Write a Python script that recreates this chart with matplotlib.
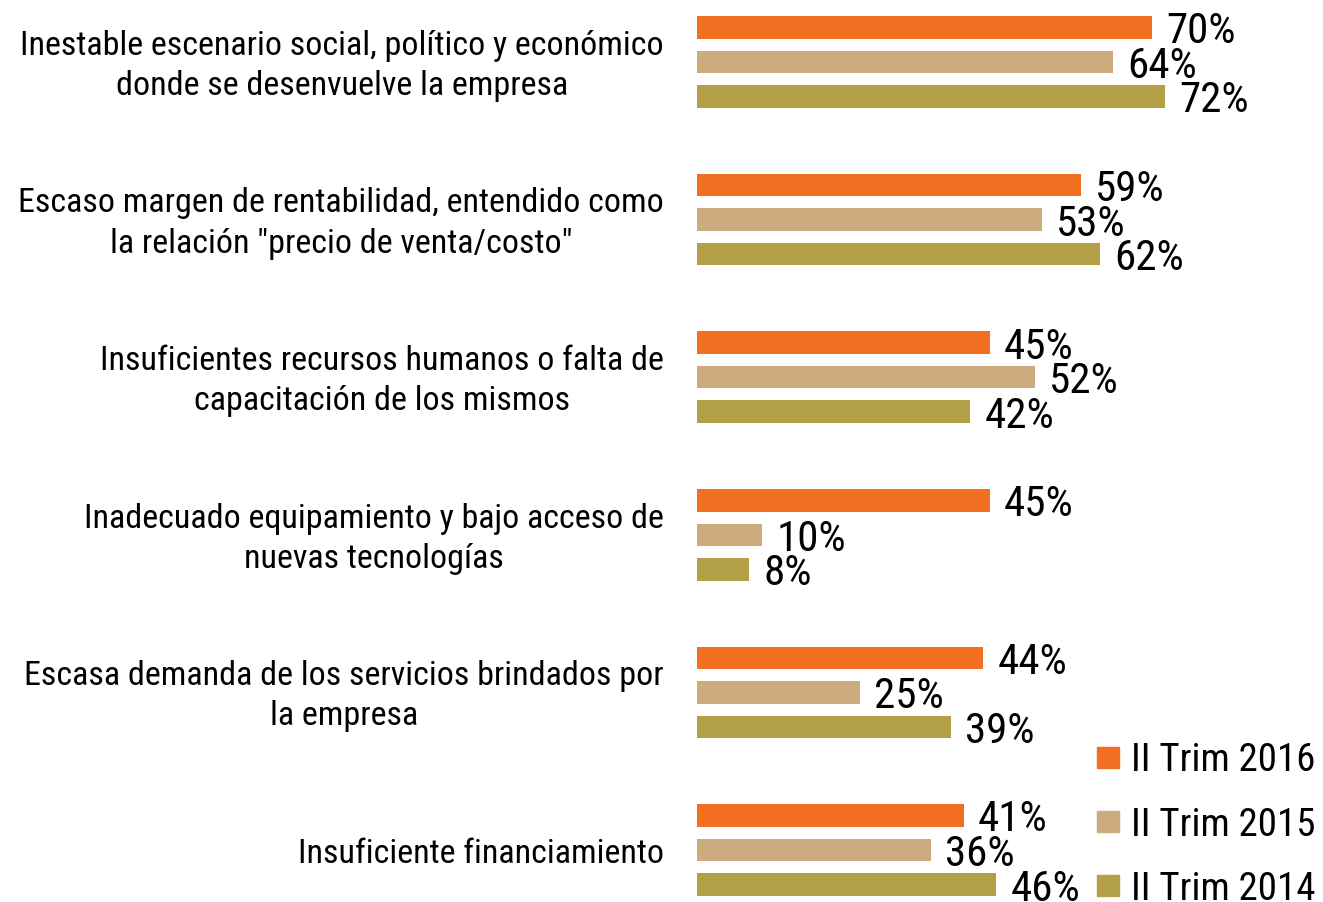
import matplotlib.pyplot as plt
from matplotlib.patches import Patch

plt.rcParams['font.family'] = ['Roboto Condensed', 'DejaVu Sans']

# categories (top to bottom) and values per series
categories = [
    'Inestable escenario social, político y económico\ndonde se desenvuelve la empresa',
    'Escaso margen de rentabilidad, entendido como\nla relación "precio de venta/costo"',
    'Insuficientes recursos humanos o falta de\ncapacitación de los mismos',
    'Inadecuado equipamiento y bajo acceso de\nnuevas tecnologías',
    'Escasa demanda de los servicios brindados por\nla empresa',
    'Insuficiente financiamiento',
]
series_names = ['II Trim 2016', 'II Trim 2015', 'II Trim 2014']
trim_2016 = [70, 59, 45, 45, 44, 41]
trim_2015 = [64, 53, 52, 10, 25, 36]
trim_2014 = [72, 62, 42, 8, 39, 46]
colors = ['#F26F22', '#CCAC7E', '#B39F45']

fig = plt.figure(figsize=(13.23, 9.02), dpi=100)
ax = fig.add_axes([697 / 1323, 0, 520 / 1323, 1])

offsets = [-0.219, 0, 0.219]
bar_h = 0.143
for vals, off, col in zip([trim_2016, trim_2015, trim_2014], offsets, colors):
    for i, v in enumerate(vals):
        ax.barh(i + off, v, height=bar_h, color=col)
        ax.text(v + 2.2, i + off, f'{v}%', ha='left', va='center_baseline',
                fontsize=31)

for i, cat in enumerate(categories):
    ax.text(-0.064, i + 0.025, cat, transform=ax.get_yaxis_transform(), ha='right',
            va='center', multialignment='center', fontsize=24.5, linespacing=1.33)

ax.set_xlim(0, 80)
ax.set_ylim(5.33, -0.393)
ax.axis('off')

handles = [Patch(color=c) for c in colors]
fig.legend(handles, series_names, loc='lower right',
           bbox_to_anchor=(1.0, -0.015), frameon=False, fontsize=28,
           handlelength=0.57, handleheight=0.45, handletextpad=0.3,
           labelspacing=0.7, borderaxespad=0.1, borderpad=0.1)

fig.savefig('out.png', dpi=100)
